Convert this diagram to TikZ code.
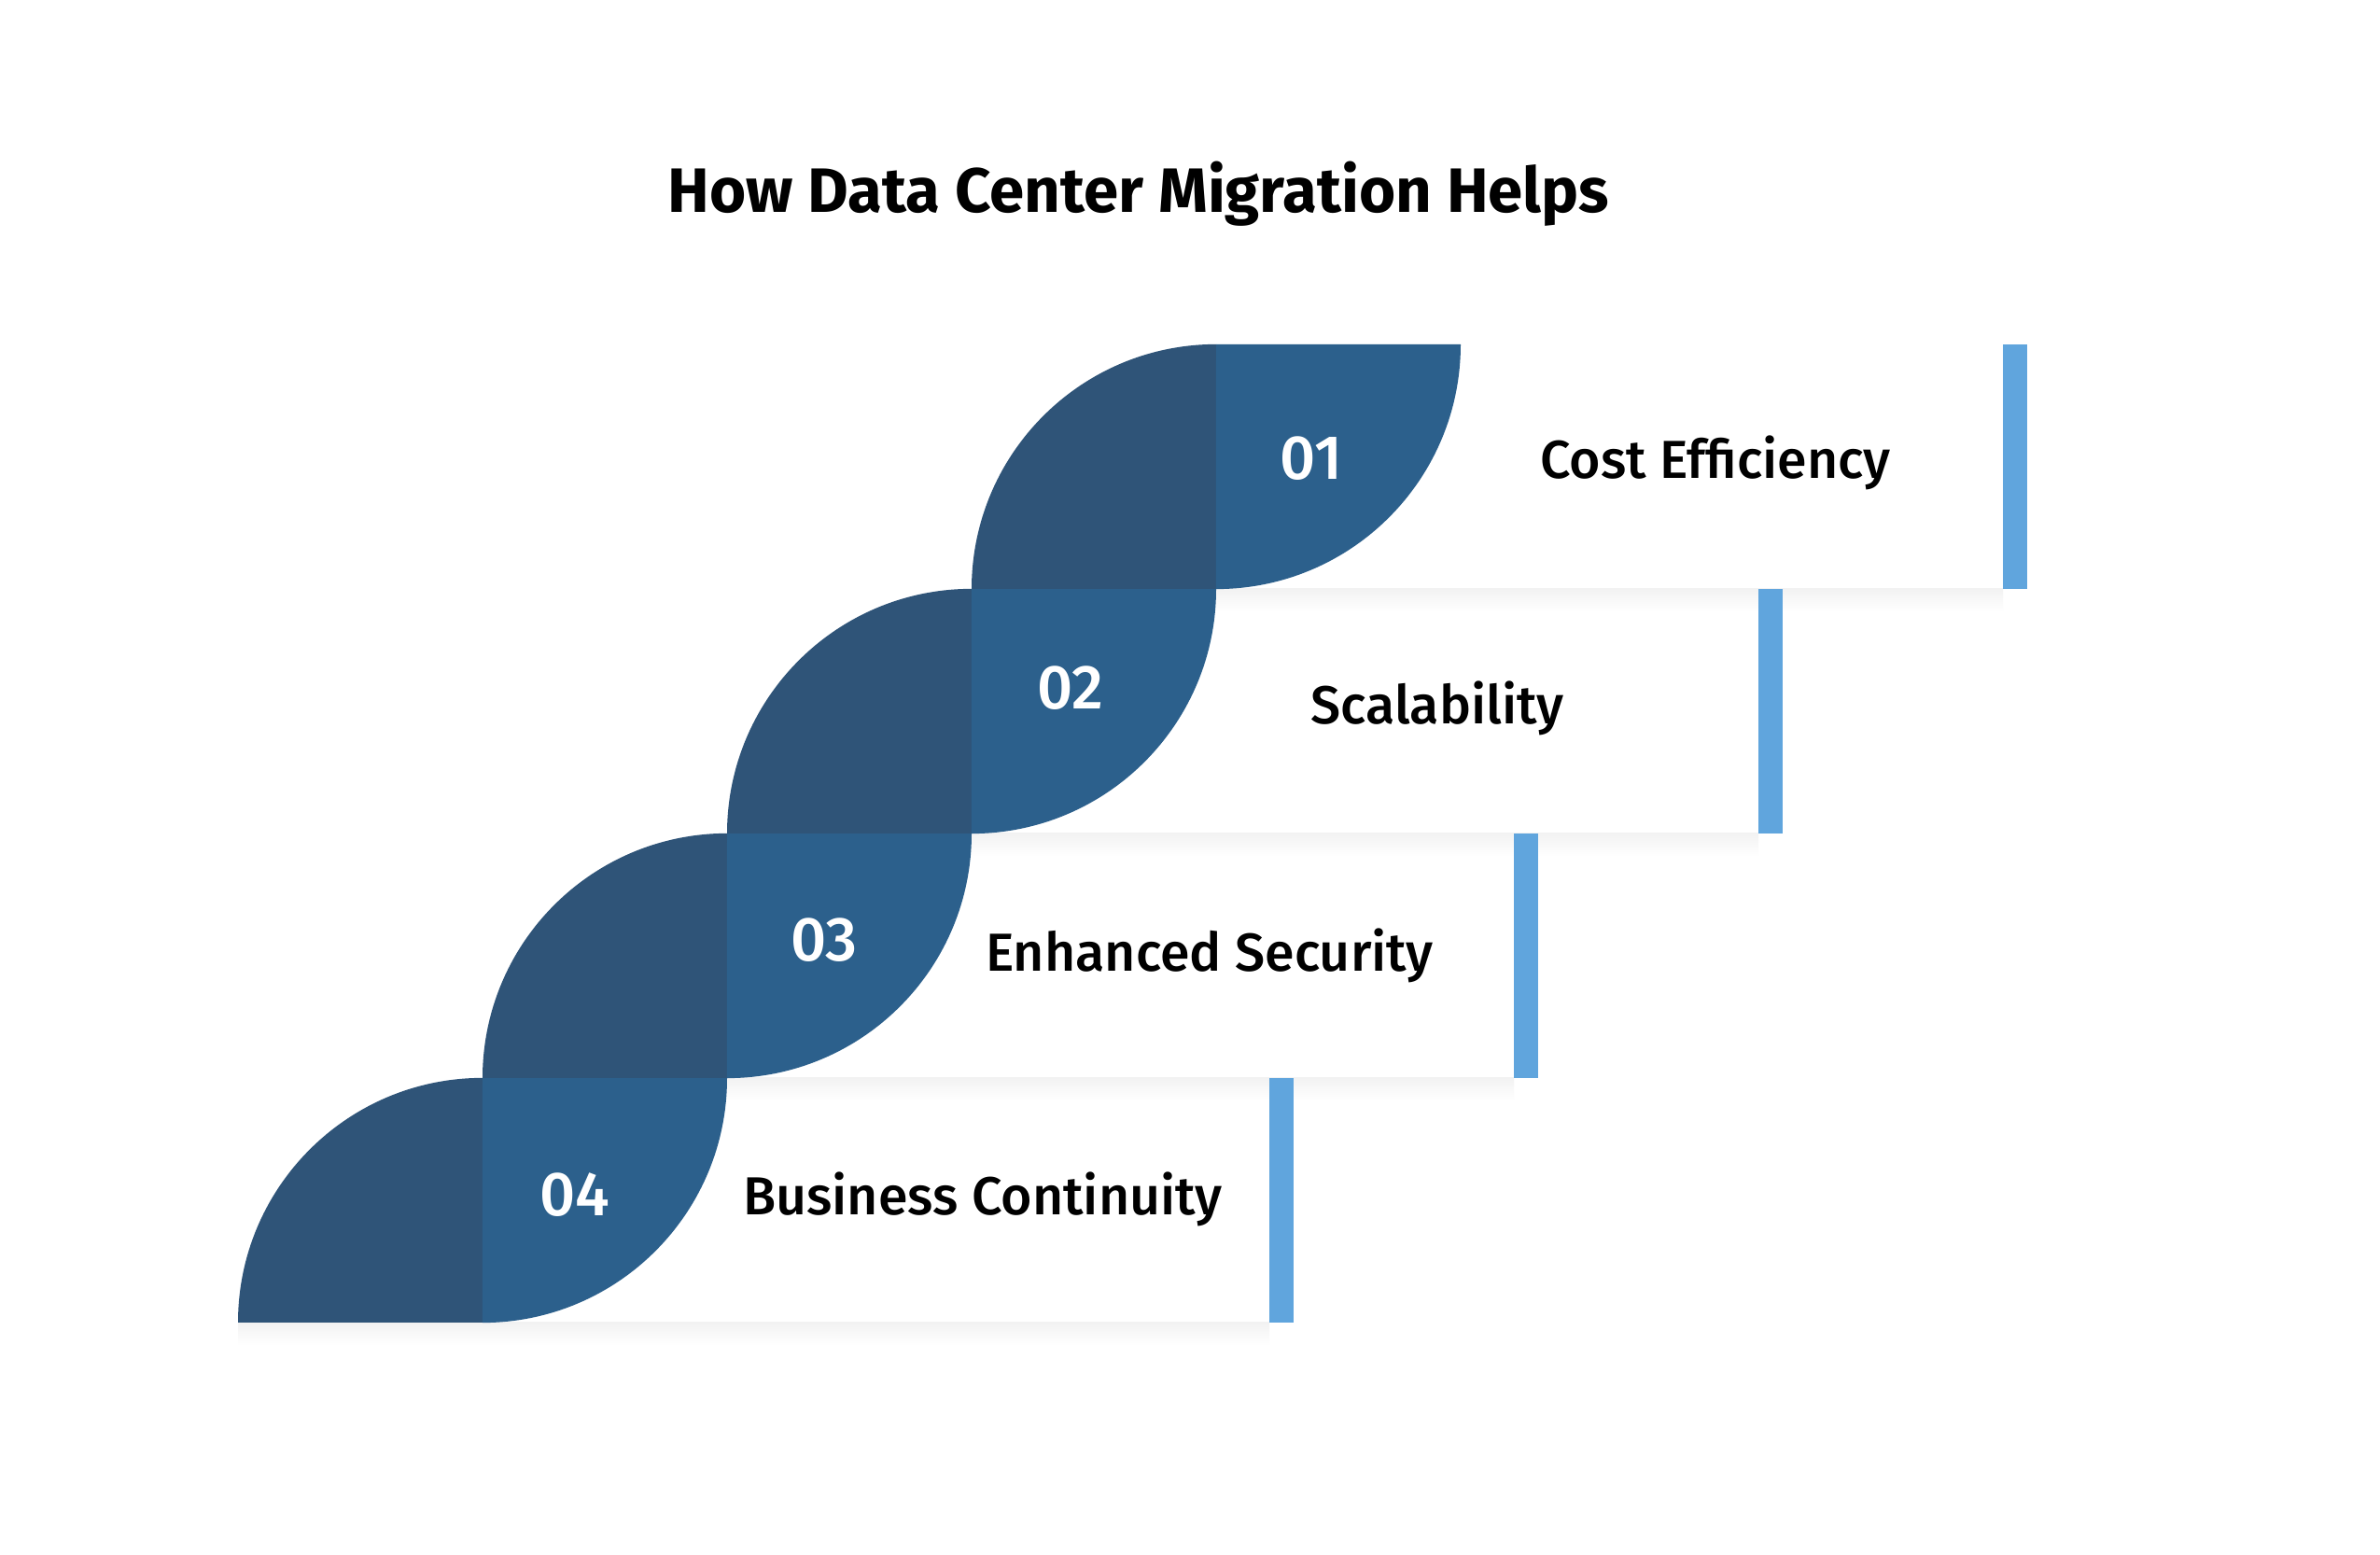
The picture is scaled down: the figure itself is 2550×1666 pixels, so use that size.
\documentclass[tikz,border=0pt]{standalone}
\usepackage{fontspec}
\setmainfont{Fira Sans}
\newfontfamily\medfont{Fira Sans Medium}
\definecolor{darkblue}{RGB}{47,84,120}
\definecolor{midblue}{RGB}{44,96,140}
\definecolor{barblue}{RGB}{96,165,221}
\tikzset{
  darkpart/.style={fill=darkblue},
  lightpart/.style={fill=midblue},
  barpart/.style={fill=barblue},
  numtxt/.style={text=white, font=\medfont\fontsize{19}{21}\selectfont},
  labtxt/.style={text=black, font=\medfont\fontsize{16.3}{19}\selectfont},
  shadowpart/.style={top color=black!5, bottom color=white}
}
\begin{document}
\begin{tikzpicture}[x=0.01cm,y=0.01cm]
\useasboundingbox (0,0) rectangle (2550,1666);
\fill[white] (0,0) rectangle (2550,1666);
% shadows
\foreach \k in {0,1,2,3}{
  \pgfmathsetmacro{\X}{517+262*\k}
  \pgfmathsetmacro{\B}{249+262*\k}
  \shade[shadowpart] (\X-262,\B-24) rectangle (\X+843,\B);
}
% shapes
\foreach \k in {0,1,2,3}{
  \pgfmathsetmacro{\X}{517+262*\k}
  \pgfmathsetmacro{\B}{249+262*\k}
  \pgfmathsetmacro{\T}{\B+262}
  \fill[darkpart] (\X-262,\B) arc[start angle=180, end angle=90, radius=2.62cm] -- (\X,\B) -- cycle;
  \fill[lightpart] (\X,\T) -- (\X+262,\T) arc[start angle=0, end angle=-90, radius=2.62cm] -- cycle;
  \fill[barpart] (\X+843,\B) rectangle (\X+869,\T);
}
\node[font=\bfseries\fontsize{19.1}{23}\selectfont] (title) at (1220,1458) {How Data Center Migration Helps};
\node[numtxt] (n1) at (1405,1175) {01};
\node[numtxt] (n2) at (1147,929) {02};
\node[numtxt] (n3) at (883,659) {03};
\node[numtxt] (n4) at (616,386) {04};
\node[labtxt] (l1) at (1838,1170) {Cost Efficiency};
\node[labtxt] (l2) at (1540,907) {Scalability};
\node[labtxt] (l3) at (1296,642) {Enhanced Security};
\node[labtxt] (l4) at (1053,381) {Business Continuity};
\end{tikzpicture}
\end{document}
